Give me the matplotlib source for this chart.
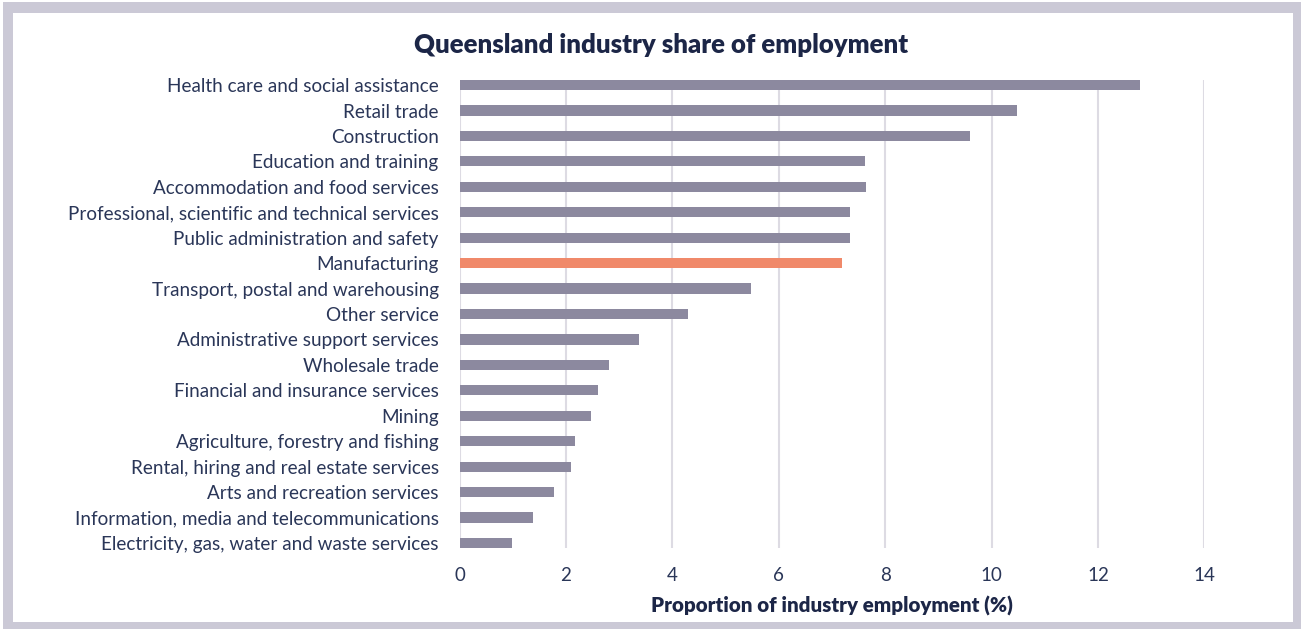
import matplotlib.pyplot as plt
from matplotlib.patches import Rectangle

# industry share of employment, Queensland (%)
industries = [
    "Health care and social assistance",
    "Retail trade",
    "Construction",
    "Education and training",
    "Accommodation and food services",
    "Professional, scientific and technical services",
    "Public administration and safety",
    "Manufacturing",
    "Transport, postal and warehousing",
    "Other service",
    "Administrative support services",
    "Wholesale trade",
    "Financial and insurance services",
    "Mining",
    "Agriculture, forestry and fishing",
    "Rental, hiring and real estate services",
    "Arts and recreation services",
    "Information, media and telecommunications",
    "Electricity, gas, water and waste services",
]
shares = [12.79, 10.47, 9.60, 7.63, 7.65, 7.34, 7.34, 7.19, 5.48, 4.30,
          3.37, 2.81, 2.60, 2.47, 2.17, 2.10, 1.78, 1.38, 0.99]
highlight = "Manufacturing"
xticks = [0, 2, 4, 6, 8, 10, 12, 14]

plt.rcParams['font.family'] = ['Lato', 'DejaVu Sans']
text_col = '#2a3658'
grey_bar = '#8c899f'
orange = '#f0896a'

W, H = 1301, 629
fig = plt.figure(figsize=(W / 100, H / 100), dpi=100)

# light frame around the chart
fig.patches.append(Rectangle((3 / W, 0), 1 - 3 / W, 1 - 2 / H, transform=fig.transFigure,
                             facecolor='#cbc9d6', edgecolor='none', zorder=-2))
fig.patches.append(Rectangle((13 / W, 7 / H), (1293 - 13) / W, (622 - 13) / H,
                             transform=fig.transFigure, facecolor='white',
                             edgecolor='none', zorder=-1))

ax = fig.add_axes([459.5 / W, 1 - 548 / H, (1204.3 - 459.5) / W, (548 - 80) / H])
ax.set_facecolor('none')

ypos = list(range(len(industries)))
colors = [orange if name == highlight else grey_bar for name in industries]
ax.barh(ypos, shares, height=0.4, color=colors, zorder=3)

ax.set_xlim(0, 14)
ax.set_ylim(18.2, -0.2)
ax.set_xticks(xticks)
ax.set_xticklabels([str(t) for t in xticks], fontsize=13.5, color=text_col)
ax.set_yticks(ypos)
ax.set_yticklabels(industries, fontsize=13.6, color=text_col)
ax.tick_params(axis='both', length=0)
ax.tick_params(axis='x', pad=14)
ax.tick_params(axis='y', pad=15)

ax.grid(axis='x', color='#dddbe3', linewidth=1.5, zorder=0)
for side in ax.spines.values():
    side.set_visible(False)

ax.set_xlabel('Proportion of industry employment (%)', fontsize=14.8,
              fontweight='heavy', color='#1c2647', labelpad=8)
fig.text(661 / W, 1 - 45 / H, 'Queensland industry share of employment',
         ha='center', va='center', fontsize=18.5, fontweight='heavy', color='#1c2647')

fig.savefig('out.png', dpi=100)
